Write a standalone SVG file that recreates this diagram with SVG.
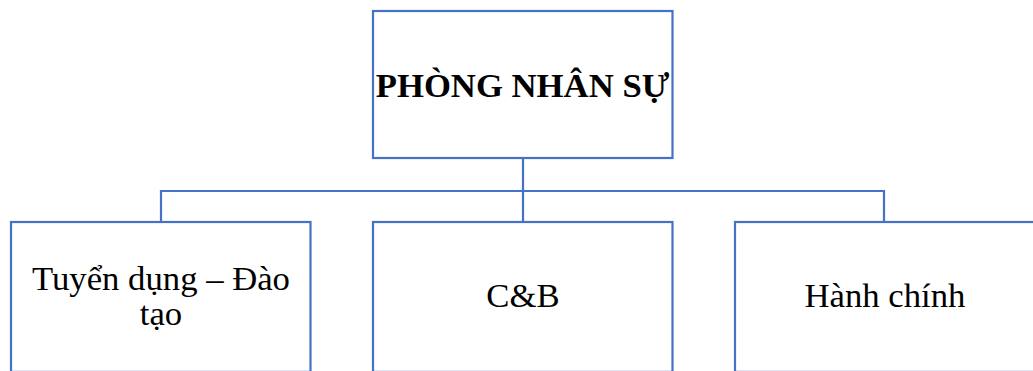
<svg xmlns="http://www.w3.org/2000/svg" width="1033" height="371" viewBox="0 0 1033 371">
  <style>
    .box { fill: #ffffff; stroke: #4472C4; stroke-width: 2.2; }
    .link { fill: none; stroke: #4472C4; stroke-width: 2.2; }
    text { font-family: 'Liberation Serif', 'Times New Roman', serif; font-size: 34.7px; fill: #000; text-anchor: middle; }
    .title { font-weight: bold; }
  </style>
  <rect width="1033" height="371" fill="#ffffff"/>

  <!-- connectors: trunk from head box, horizontal bus, drops to each unit -->
  <g id="connectors">
    <path class="link" d="M523 158 V222"/>
    <path class="link" d="M161 222 V191 H884 V222"/>
  </g>

  <g id="node-head">
    <rect class="box" x="373" y="11" width="299.5" height="147"/>
    <text class="title" x="522.5" y="97">PHÒNG NHÂN SỰ</text>
  </g>

  <g id="node-recruit">
    <rect class="box" x="11" y="222" width="299.5" height="149.9"/>
    <text x="161" y="290">Tuyển dụng – Đào</text>
    <text x="161" y="325">tạo</text>
  </g>

  <g id="node-cb">
    <rect class="box" x="373" y="222" width="299.5" height="149.9"/>
    <text x="523" y="306.5">C&amp;B</text>
  </g>

  <g id="node-admin">
    <rect class="box" x="735" y="222" width="299.5" height="149.9"/>
    <text x="885" y="306.5">Hành chính</text>
  </g>
</svg>
